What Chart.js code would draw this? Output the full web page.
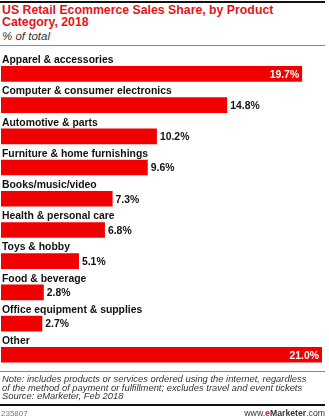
<!DOCTYPE html>
<html lang="en">
<head>
<meta charset="UTF-8">
<title>US Retail Ecommerce Sales Share</title>
<script src="https://cdn.jsdelivr.net/npm/chart.js"></script>
<style>
  body { margin: 0; background: #fff; font-family: "Liberation Sans", Arial, sans-serif; }
  #quadro { position: relative; width: 329px; height: 419px; overflow: hidden; }
  .regua-preta { position: absolute; left: 0; width: 325px; background: #111; }
  .regua-cinza { position: absolute; left: 0; width: 325px; height: 1px; background: #888; }
  #titulo { position: absolute; left: 2px; top: 4px; color: #e3141c; font-weight: bold; font-size: 12.3px; line-height: 12px; }
  #subtitulo { position: absolute; left: 2px; top: 30px; color: #333; font-style: italic; font-size: 11.5px; }
  #nota { position: absolute; left: 2px; top: 375px; color: #333; font-style: italic; font-size: 9.4px; line-height: 8.6px; }
  #codigo { position: absolute; left: 1px; top: 409px; color: #777; font-size: 8px; }
  #site { position: absolute; right: 4px; top: 408px; color: #333; font-size: 8.7px; }
  #site b.e { color: #e3141c; }
  #areaGrafico { position: absolute; left: 0; top: 46px; width: 329px; height: 326px; }
</style>
</head>
<body>
<div id="quadro">
  <div class="regua-preta" style="top:1px;height:2px;"></div>
  <div id="titulo">US Retail Ecommerce Sales Share, by Product<br>Category, 2018</div>
  <div id="subtitulo">% of total</div>
  <div class="regua-cinza" style="top:45px;"></div>
  <div id="areaGrafico"><canvas id="grafico"></canvas></div>
  <div class="regua-cinza" style="top:371px;"></div>
  <div id="nota">Note: includes products or services ordered using the internet, regardless<br>of the method of payment or fulfillment; excludes travel and event tickets<br>Source: eMarketer, Feb 2018</div>
  <div class="regua-preta" style="top:404px;height:2px;"></div>
  <div id="codigo">235807</div>
  <div id="site">www.<b class="e">e</b><b>Marketer</b>.com</div>
</div>
<script>
  // dados
  const categorias = [
    'Apparel & accessories',
    'Computer & consumer electronics',
    'Automotive & parts',
    'Furniture & home furnishings',
    'Books/music/video',
    'Health & personal care',
    'Toys & hobby',
    'Food & beverage',
    'Office equipment & supplies',
    'Other'
  ];
  const participacao = [19.7, 14.8, 10.2, 9.6, 7.3, 6.8, 5.1, 2.8, 2.7, 21.0];
  const rotulosDentro = ['Apparel & accessories', 'Other'];

  // desenha nome da categoria acima da barra e o valor ao lado
  const rotulos = {
    id: 'rotulos',
    afterDatasetsDraw(chart) {
      const ctx = chart.ctx;
      const meta = chart.getDatasetMeta(0);
      ctx.save();
      meta.data.forEach((barra, i) => {
        const topo = barra.y - barra.height / 2;
        ctx.font = 'bold 10.4px "Liberation Sans", Arial, sans-serif';
        ctx.fillStyle = '#111';
        ctx.textAlign = 'left';
        ctx.textBaseline = 'alphabetic';
        ctx.fillText(categorias[i], barra.base + 1, topo - 3);

        const texto = participacao[i].toFixed(1) + '%';
        ctx.textBaseline = 'middle';
        if (rotulosDentro.includes(categorias[i])) {
          ctx.fillStyle = '#fff';
          ctx.textAlign = 'right';
          ctx.fillText(texto, barra.x - 3, barra.y + 1);
        } else {
          ctx.fillStyle = '#111';
          ctx.textAlign = 'left';
          ctx.fillText(texto, barra.x + 3, barra.y + 1);
        }
      });
      ctx.restore();
    }
  };

  new Chart(document.getElementById('grafico'), {
    type: 'bar',
    data: {
      labels: categorias,
      datasets: [{
        data: participacao,
        backgroundColor: '#f00000',
        borderWidth: 0,
        barPercentage: 0.5,
        categoryPercentage: 1
      }]
    },
    options: {
      indexAxis: 'y',
      responsive: true,
      maintainAspectRatio: false,
      animation: false,
      layout: { padding: { top: 12.3, bottom: 1.6, left: 1, right: 7 } },
      plugins: { legend: { display: false }, tooltip: { enabled: false } },
      scales: {
        x: { display: false, min: 0, max: 21 },
        y: { display: false }
      }
    },
    plugins: [rotulos]
  });
</script>
</body>
</html>
